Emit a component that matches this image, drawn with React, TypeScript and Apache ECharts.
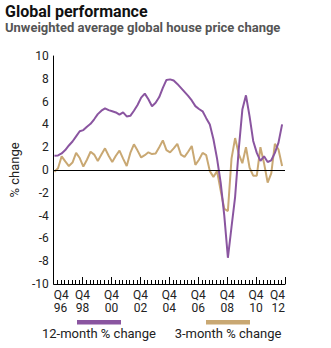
import React, { useEffect, useRef } from "react";
import * as echarts from "echarts";

const tickLabels = ["Q4\n96", "Q4\n98", "Q4\n00", "Q4\n02", "Q4\n04", "Q4\n06", "Q4\n08", "Q4\n10", "Q4\n12"];

const twelveMonth = [
  1.25, 1.28, 1.45, 1.75, 2.15, 2.5, 2.95, 3.4, 3.5, 3.8,
  4.05, 4.45, 4.9, 5.2, 5.4, 5.25, 5.15, 5.05, 4.85, 5.05,
  4.7, 4.75, 5.2, 5.7, 6.35, 6.7, 6.2, 5.6, 5.9, 6.4,
  7.2, 7.9, 7.95, 7.85, 7.55, 7.2, 6.85, 6.5, 6.1, 5.6,
  5.35, 5.15, 4.55, 4.0, 2.7, 1.0, -1.1, -4.0, -7.7, -5.0,
  -2.35, 1.8, 5.3, 6.55, 4.7, 2.55, 1.5, 0.8, 1.2, 0.7,
  0.85, 1.5, 2.4, 4.0,
];

const threeMonth = [
  -0.15, 0.15, 1.2, 0.75, 0.35, 0.65, 1.5, 1.05, 0.3, 0.9,
  1.6, 1.35, 0.8, 1.35, 1.9, 1.25, 0.7, 1.25, 1.7, 1.0,
  0.35, 1.5, 2.25, 1.7, 1.1, 1.3, 1.55, 1.4, 1.45, 2.0,
  2.6, 1.75, 1.55, 1.9, 2.3, 1.35, 1.15, 1.6, 2.1, 0.45,
  0.9, 1.5, 1.3, -0.1, -0.6, -0.1, -1.8, -3.4, -3.6, 1.0,
  2.8, 1.4, 0.6, 2.0, 0.2, -0.5, -0.5, 2.0, 0.6, -1.1,
  -0.3, 2.3, 1.8, 0.35,
];

const seriesNames = ["12-month % change", "3-month % change"];
const colors = ["#8a55a0", "#c9a873"];

export default function App() {
  const ref = useRef<HTMLDivElement>(null);
  useEffect(() => {
    if (!ref.current) return;
    const chart = echarts.init(ref.current, undefined, { renderer: "svg" });
    const toPairs = (arr: number[]) => arr.map((v, i) => [i + 0.2, v]);
    const font = "Roboto";
    chart.setOption({
      animation: false,
      backgroundColor: "#fff",
      grid: { left: 43, top: 56, width: 242, height: 228, containLabel: false },
      xAxis: {
        type: "value",
        min: 0,
        max: 64,
        interval: 8,
        axisLine: { show: true, onZero: false, lineStyle: { color: "#000", width: 1 } },
        axisTick: { show: true, inside: true, length: 7, lineStyle: { color: "#000" } },
        minorTick: { show: true, splitNumber: 8, length: 4, lineStyle: { color: "#000" } },
        splitLine: { show: false },
        axisLabel: {
          formatter: (v: number) => tickLabels[Math.round(v / 8)] ?? "",
          fontFamily: font,
          fontSize: 12,
          color: "#222",
          lineHeight: 13,
          margin: 4,
          alignMinLabel: "left",
          alignMaxLabel: "right",
        },
      },
      yAxis: {
        type: "value",
        min: -10,
        max: 10,
        interval: 2,
        name: "% change",
        nameLocation: "middle",
        nameGap: 24,
        nameTextStyle: { fontFamily: font, fontSize: 13, color: "#222" },
        axisLine: { show: true, lineStyle: { color: "#000", width: 1 } },
        axisTick: { show: false },
        splitLine: { show: false },
        axisLabel: { fontFamily: font, fontSize: 12, color: "#222", margin: 5 },
      },
      series: [
        {
          name: seriesNames[1],
          type: "line",
          data: toPairs(threeMonth),
          showSymbol: false,
          lineStyle: { color: colors[1], width: 2 },
          itemStyle: { color: colors[1] },
          markLine: {
            silent: true,
            symbol: "none",
            label: { show: false },
            lineStyle: { color: "#000", width: 1, type: "solid" },
            data: [{ yAxis: 0 }],
          },
        },
        {
          name: seriesNames[0],
          type: "line",
          data: toPairs(twelveMonth),
          showSymbol: false,
          lineStyle: { color: colors[0], width: 2 },
          itemStyle: { color: colors[0] },
        },
      ],
      graphic: [
        {
          type: "text",
          left: 5,
          top: 3,
          style: { text: "Global performance", fontFamily: font, fontWeight: "bold", fontSize: 16, fill: "#111" },
        },
        {
          type: "text",
          left: 5,
          top: 21,
          style: {
            text: "Unweighted average global house price change",
            fontFamily: font,
            fontWeight: "bold",
            fontSize: 13,
            fill: "#555",
          },
        },
        { type: "rect", shape: { x: 77, y: 320, width: 44, height: 4.5 }, style: { fill: colors[0] } },
        { type: "rect", shape: { x: 206, y: 320, width: 44, height: 4.5 }, style: { fill: colors[1] } },
        {
          type: "text",
          x: 99,
          y: 333,
          style: { text: seriesNames[0], fontFamily: font, fontSize: 13, fill: "#222", align: "center", verticalAlign: "middle" },
        },
        {
          type: "text",
          x: 228,
          y: 333,
          style: { text: seriesNames[1], fontFamily: font, fontSize: 13, fill: "#222", align: "center", verticalAlign: "middle" },
        },
      ],
    });
    return () => chart.dispose();
  }, []);
  return <div ref={ref} style={{ width: 331, height: 348, position: "absolute", left: 0, top: 0 }} />;
}
